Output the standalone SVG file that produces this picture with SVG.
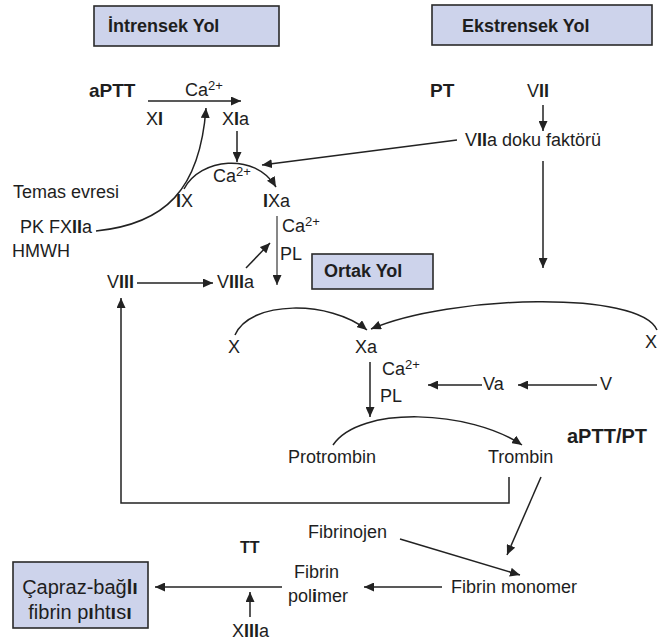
<svg xmlns="http://www.w3.org/2000/svg" width="658" height="641" viewBox="0 0 658 641">
<style>
text{font-family:"Liberation Sans",Arial,sans-serif;font-size:18px;fill:#1e1e1e}
.b{font-weight:bold}
.t{font-weight:bold;font-size:19px}
.h{font-weight:bold;font-size:18px}
.sup{font-size:13px}
.box{fill:#cdd3eb;stroke:#2a2a2a;stroke-width:1.6}
.c{fill:none;stroke:#222;stroke-width:1.5}
.g{fill:none;stroke:#7a7a7a;stroke-width:1.8}
</style>
<defs>
<marker id="ah" viewBox="0 0 10 9" refX="10" refY="4.5" markerWidth="10" markerHeight="9" orient="auto" markerUnits="userSpaceOnUse">
<path d="M0,0 L10,4.5 L0,9 z" fill="#222"/>
</marker>
</defs>

<g id="n-intrensek"><rect class="box" x="94" y="6" width="185" height="40"/><text class="h" x="108" y="32">İntrensek Yol</text></g>
<g id="n-ekstrensek"><rect class="box" x="432" y="5" width="220" height="40"/><text class="h" x="462" y="32">Ekstrensek Yol</text></g>
<g id="n-ortak"><rect class="box" x="312" y="254" width="121" height="35"/><text class="h" x="324" y="277">Ortak Yol</text></g>
<g id="n-capraz"><rect class="box" x="13" y="562" width="135" height="66"/><text x="80" y="594" text-anchor="middle" style="font-size:20px">Çapraz-bağ<tspan class="b">lı</tspan></text><text x="80" y="619" text-anchor="middle" style="font-size:20px">fibrin p<tspan class="b">ı</tspan>ht<tspan class="b">ı</tspan>s<tspan class="b">ı</tspan></text></g>

<g id="n-aptt"><text class="t" x="89" y="97">aPTT</text></g>
<g id="n-ca1"><text x="185" y="96">Ca<tspan class="sup" dy="-6">2+</tspan></text></g>
<g id="n-xi"><text x="146" y="125">X<tspan class="b">I</tspan></text></g>
<g id="n-xia"><text x="222" y="125">X<tspan class="b">I</tspan>a</text></g>
<g id="n-pt"><text class="t" x="430" y="97">PT</text></g>
<g id="n-vii"><text x="527" y="97">V<tspan class="b">II</tspan></text></g>
<g id="n-viia"><text x="465" y="146">V<tspan class="b">II</tspan>a doku faktörü</text></g>
<g id="n-temas"><text x="13" y="198">Temas evresi</text></g>
<g id="n-pk"><text x="20" y="233">PK FX<tspan class="b">II</tspan>a</text></g>
<g id="n-hmwh"><text x="12" y="257">HMWH</text></g>
<g id="n-ix"><text x="176" y="207"><tspan class="b">I</tspan>X</text></g>
<g id="n-ca2"><text x="213" y="182">Ca<tspan class="sup" dy="-6">2+</tspan></text></g>
<g id="n-ixa"><text x="263" y="207"><tspan class="b">I</tspan>Xa</text></g>
<g id="n-ca3"><text x="282" y="232">Ca<tspan class="sup" dy="-6">2+</tspan></text><text x="280" y="260">PL</text></g>
<g id="n-viii"><text x="107" y="288">V<tspan class="b">III</tspan></text></g>
<g id="n-viiia"><text x="217" y="288">V<tspan class="b">III</tspan>a</text></g>
<g id="n-x"><text x="228" y="353">X</text></g>
<g id="n-xa"><text x="355" y="353">Xa</text></g>
<g id="n-x2"><text x="645" y="348">X</text></g>
<g id="n-ca4"><text x="382" y="375">Ca<tspan class="sup" dy="-6">2+</tspan></text><text x="380" y="402">PL</text></g>
<g id="n-va"><text x="483" y="390">Va</text></g>
<g id="n-v"><text x="600" y="390">V</text></g>
<g id="n-apttpt"><text class="t" x="567" y="443" style="font-size:20px">aPTT/PT</text></g>
<g id="n-protrombin"><text x="288" y="463">Protrombin</text></g>
<g id="n-trombin"><text x="488" y="463">Trombin</text></g>
<g id="n-fibrinojen"><text x="308" y="538">Fibrinojen</text></g>
<g id="n-tt"><text class="b" x="240" y="553" style="font-size:16px">TT</text></g>
<g id="n-polimer"><text x="294" y="578">Fibrin</text><text x="288" y="602">pol<tspan class="b">i</tspan>mer</text></g>
<g id="n-monomer"><text x="451" y="593">Fibrin monomer</text></g>
<g id="n-xiiia"><text x="232" y="637">X<tspan class="b">III</tspan>a</text></g>

<g id="connectors" marker-end="url(#ah)">
<path class="c" d="M148,101 H241"/>
<path class="c" d="M96,231 C165,224 200,190 206,108"/>
<path class="c" d="M237,131 V162"/>
<path class="c" d="M184,189 C200,158 255,152 276,187"/>
<path class="c" d="M457,140 L262,165"/>
<path class="c" d="M543,105 V131"/>
<path class="c" d="M543,161 V268"/>
<path class="g" d="M277,216 V285"/>
<path class="c" d="M137,283 H213"/>
<path class="c" d="M246,268 L270,243"/>
<path class="c" d="M509,477 V503 H121 V298"/>
<path class="c" d="M235,335 C250,300 330,300 367,330"/>
<path class="c" d="M657,330 C640,290 450,295 371,329"/>
<path class="c" d="M370,362 V417"/>
<path class="c" d="M482,385 H428"/>
<path class="c" d="M597,385 H518"/>
<path class="c" d="M333,445 C360,405 470,410 522,445"/>
<path class="c" d="M541,477 L507,555"/>
<path class="c" d="M400,539 L520,575"/>
<path class="c" d="M442,587 H364"/>
<path class="c" d="M282,587 H155"/>
<path class="c" d="M250,617 V592"/>
</g>
</svg>
